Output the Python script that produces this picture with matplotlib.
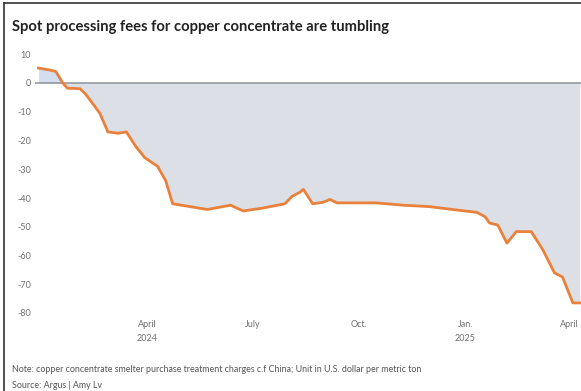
import matplotlib
matplotlib.use("Agg")
import matplotlib.pyplot as plt
import matplotlib.dates as mdates
import numpy as np
import pandas as pd

# weekly-ish readings of spot TC (USD/t)
dates = pd.to_datetime([
    "2023-12-29", "2024-01-08", "2024-01-13", "2024-01-19", "2024-01-23",
    "2024-02-03", "2024-02-08", "2024-02-20", "2024-02-27", "2024-03-07",
    "2024-03-14", "2024-03-22", "2024-03-30", "2024-04-10", "2024-04-17",
    "2024-04-23", "2024-05-08", "2024-05-23", "2024-06-12", "2024-06-23",
    "2024-07-10", "2024-07-29", "2024-08-04", "2024-08-11", "2024-08-14",
    "2024-08-22", "2024-08-31", "2024-09-06", "2024-09-12", "2024-10-16",
    "2024-11-08", "2024-12-01", "2024-12-21", "2025-01-11", "2025-01-18",
    "2025-01-22", "2025-01-29", "2025-02-06", "2025-02-14", "2025-02-27",
    "2025-03-09", "2025-03-19", "2025-03-26", "2025-04-04", "2025-04-10",
])
fees = [
    5.2, 4.5, 4.0, 0.0, -1.8,
    -2.0, -4.0, -10.5, -17.0, -17.5,
    -17.0, -22.0, -26.0, -29.0, -34.0,
    -42.0, -43.0, -44.0, -42.5, -44.5,
    -43.5, -42.0, -39.5, -38.0, -37.0,
    -42.0, -41.5, -40.5, -41.7, -41.7,
    -42.5, -43.0, -44.0, -45.0, -46.5,
    -48.7, -49.4, -55.7, -51.7, -51.7,
    -58.0, -66.0, -67.5, -76.5, -76.5,
]

yticks = [10, 0, -10, -20, -30, -40, -50, -60, -70, -80]
xtick_dates = pd.to_datetime(["2024-04-01", "2024-07-01", "2024-10-01", "2025-01-01", "2025-04-01"])
xtick_labels = ["April\n2024", "July", "Oct.", "Jan.\n2025", "April"]

W, H = 581, 391
fig = plt.figure(figsize=(W / 100, H / 100), dpi=100)
fig.patch.set_facecolor("white")

# axes placed in pixel terms (0 at y=83px, 2.875 px per unit)
left, right = 35, 581
top, bottom = 48.5, 318.75
ax = fig.add_axes([left / W, 1 - bottom / H, (right - left) / W, (bottom - top) / H])

x = mdates.date2num(dates)
y = np.array(fees)
ax.fill_between(x, y, 0, where=y <= 0, interpolate=True, color="#dcdfe5", lw=0)
ax.fill_between(x, y, 0, where=y >= 0, interpolate=True, color="#d5deef", lw=0)
ax.axhline(0, color="#8a8f99", lw=1.1, zorder=2)
ax.plot(x, y, color="#e8813c", lw=2.0, zorder=3, solid_joinstyle="round")

ax.set_xlim(mdates.date2num(pd.Timestamp("2023-12-26")), mdates.date2num(pd.Timestamp("2025-04-11")))
ax.set_ylim(-82, 12)

for s in ax.spines.values():
    s.set_visible(False)
ax.set_yticks(yticks)
ax.set_yticklabels([str(v) for v in yticks])
ax.set_xticks(mdates.date2num(xtick_dates))
ax.set_xticklabels(xtick_labels, linespacing=1.7)
ax.tick_params(axis="both", length=0, labelsize=6.5, labelcolor="#707070", labelfontfamily="Lato")
ax.tick_params(axis="y", pad=3)
ax.tick_params(axis="x", pad=1)
ax.set_facecolor("white")

fig.text(12 / W, 1 - 27 / H, "Spot processing fees for copper concentrate are tumbling",
         fontsize=10.6, fontweight="bold", family="Lato", color="#222222", va="center")
fig.text(12 / W, 1 - 369 / H,
         "Note: copper concentrate smelter purchase treatment charges c.f China; Unit in U.S. dollar per metric ton",
         fontsize=6.4, family="Lato", color="#555555", va="center")
fig.text(12 / W, 1 - 386 / H, "Source: Argus | Amy Lv",
         fontsize=6.4, family="Lato", color="#555555", va="center")

# scan frame on left and top
fig.add_artist(plt.Line2D([4 / W, 4 / W], [0, 1 - 3 / H], color="#333333", lw=1.2))
fig.add_artist(plt.Line2D([4 / W, 1], [1 - 3 / H, 1 - 3 / H], color="#333333", lw=1.2))

fig.savefig("out.png", dpi=100)
